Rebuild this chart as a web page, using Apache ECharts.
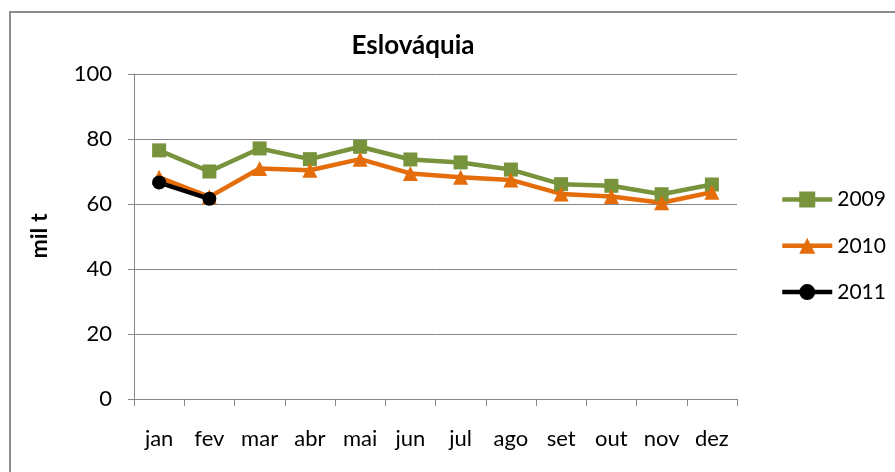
<!DOCTYPE html>
<html>
<head>
<meta charset="utf-8">
<script src="https://cdn.jsdelivr.net/npm/echarts@6/dist/echarts.min.js"></script>
<style>
html,body{margin:0;padding:0;background:#fff;}
#main{width:895px;height:472px;}
</style>
</head>
<body>
<div id="main"></div>
<script>
// meses e valores (mil t)
var meses = ['jan','fev','mar','abr','mai','jun','jul','ago','set','out','nov','dez'];
var y2009 = [76.5, 70.0, 77.1, 73.8, 77.6, 73.7, 72.8, 70.6, 66.1, 65.6, 63.0, 66.0];
var y2010 = [68.2, 62.2, 70.9, 70.4, 73.8, 69.4, 68.2, 67.4, 63.1, 62.3, 60.4, 63.6];
var y2011 = [66.6, 61.6];
var yTicks = [0, 20, 40, 60, 80, 100];

var fonte = 'Lato, "Open Sans", sans-serif';
var cinza = '#868686';

var chart = echarts.init(document.getElementById('main'));

function serie(nome, dados, cor, simbolo, tam){
    return {
        name: nome,
        type: 'line',
        data: dados,
        symbol: simbolo,
        symbolSize: tam,
        showAllSymbol: true,
        lineStyle: {color: cor, width: 4.5},
        itemStyle: {color: cor, borderWidth: 0},
        emphasis: {disabled: true},
        animation: false
    };
}

chart.setOption({
    animation: false,
    title: {
        text: 'Eslováquia',
        left: 408,
        textAlign: 'center',
        top: 28,
        textStyle: {fontFamily: fonte, fontSize: 26, fontWeight: 'bold', color: '#000'}
    },
    graphic: [{
        type: 'rect',
        shape: {x: 10, y: 12, width: 900, height: 480},
        style: {fill: 'none', stroke: '#8c8c8c', lineWidth: 2},
        silent: true
    }, {
        type: 'text',
        x: 40, y: 236,
        rotation: Math.PI / 2,
        style: {text: 'mil t', fontFamily: fonte, fontSize: 23, fontWeight: 'bold', fill: '#000',
            textAlign: 'center', textVerticalAlign: 'middle'}
    }],
    legend: {
        orient: 'vertical',
        left: 775,
        top: 184,
        itemWidth: 50,
        itemHeight: 20,
        itemGap: 25.3,
        textStyle: {fontFamily: fonte, fontSize: 21, color: '#000'},
        lineStyle: {width: 4.5},
        data: ['2009', '2010', '2011']
    },
    grid: {left: 134, right: 158, top: 74, bottom: 73, containLabel: false},
    xAxis: {
        type: 'category',
        data: meses,
        boundaryGap: true,
        axisLine: {lineStyle: {color: cinza, width: 1}},
        axisTick: {show: true, length: 7, lineStyle: {color: cinza}},
        axisLabel: {fontFamily: fonte, fontSize: 22, color: '#000', margin: 29}
    },
    yAxis: {
        type: 'value',
        min: yTicks[0],
        max: yTicks[yTicks.length - 1],
        interval: 20,
        axisLine: {show: true, lineStyle: {color: cinza, width: 1}},
        axisTick: {show: true, length: 6, lineStyle: {color: cinza}},
        splitLine: {lineStyle: {color: cinza, width: 1}},
        axisLabel: {fontFamily: fonte, fontSize: 22, color: '#000', margin: 22}
    },
    series: [
        serie('2009', y2009, '#77933C', 'rect', 14),
        serie('2010', y2010, '#E46C0A', 'triangle', 15),
        serie('2011', y2011, '#000000', 'circle', 14)
    ]
});
</script>
</body>
</html>
